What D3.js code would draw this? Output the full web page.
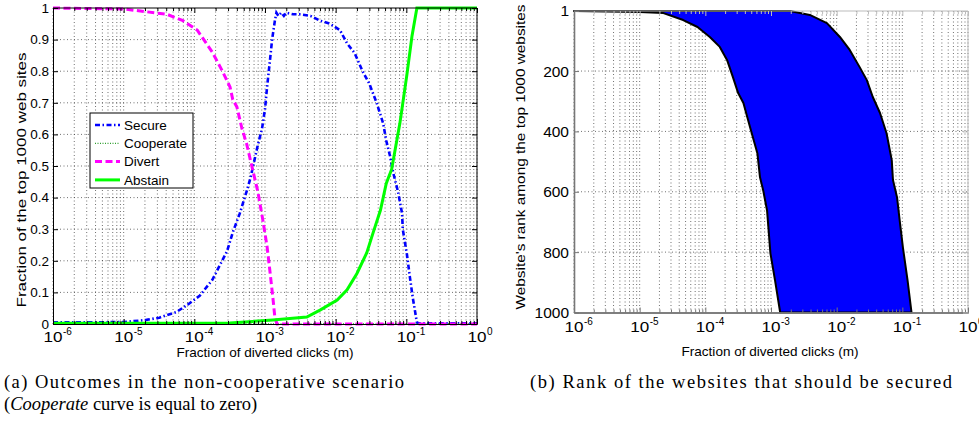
<!DOCTYPE html>
<html>
<head>
<meta charset="utf-8">
<script src="https://cdn.jsdelivr.net/npm/d3@7"></script>
<style>
    body { margin: 0; background: #fff; }
    svg { display: block; }
    text { font-family: "Liberation Sans", Arial, sans-serif; fill: #000; }
    .caption { font-family: "Liberation Serif", "Times New Roman", serif; }
</style>
</head>
<body>
<svg id="fig" width="979" height="425"></svg>
<script>
// ---- (a) outcomes, fraction of the top 1000 sites vs. fraction of diverted clicks
const secureM = [1e-6, 1e-5, 2.1e-5, 3.2e-5, 5.6e-5, 7.9e-5, 1.2e-4, 1.8e-4, 2.9e-4, 3.5e-4, 4.4e-4, 5.5e-4,
    6.2e-4, 7.8e-4, 9.1e-4, 1.0e-3, 1.07e-3, 1.17e-3, 1.26e-3, 1.38e-3, 1.45e-3, 1.55e-3, 1.7e-3, 1.85e-3,
    2.0e-3, 2.5e-3, 3.1e-3, 4.4e-3, 6.0e-3, 8.3e-3, 0.0115, 0.0145, 0.0186, 0.024, 0.030, 0.038, 0.047,
    0.052, 0.059, 0.065, 0.076, 0.087, 0.089, 0.102, 0.112, 0.123, 0.132, 0.141, 0.155, 1];
const secureFrac = [0.005, 0.006, 0.013, 0.02, 0.038, 0.06, 0.09, 0.14, 0.23, 0.29, 0.35, 0.42,
    0.46, 0.56, 0.62, 0.68, 0.75, 0.83, 0.90, 0.96, 0.985, 0.975, 0.985, 0.975,
    0.985, 0.98, 0.98, 0.975, 0.96, 0.95, 0.93, 0.888, 0.857, 0.80, 0.76, 0.70, 0.635,
    0.58, 0.53, 0.48, 0.42, 0.35, 0.30, 0.22, 0.15, 0.085, 0.044, 0.005, 0.002, 0.002];

const cooperateM = [1e-6, 1];
const cooperateFrac = [0, 0];

const divertM = [1e-6, 1e-5, 4.1e-5, 6.9e-5, 1.1e-4, 1.8e-4, 2.5e-4, 3.2e-4, 3.5e-4, 4.0e-4, 4.7e-4,
    5.5e-4, 6.5e-4, 7.9e-4, 9.3e-4, 1.07e-3, 1.17e-3, 1.29e-3, 1.38e-3, 1.48e-3, 1];
const divertFrac = [1.0, 0.997, 0.98, 0.96, 0.93, 0.86, 0.80, 0.75, 0.71, 0.687, 0.62,
    0.57, 0.50, 0.42, 0.33, 0.245, 0.17, 0.085, 0.02, 0, 0];

const abstainM = [1e-6, 3.2e-4, 1.29e-3, 3.9e-3, 6.0e-3, 0.0105, 0.0145, 0.020, 0.0275, 0.034, 0.043,
    0.052, 0.062, 0.081, 0.102, 0.12, 0.141, 1];
const abstainFrac = [0.002, 0.003, 0.013, 0.022, 0.044, 0.076, 0.108, 0.16, 0.225, 0.29, 0.36,
    0.445, 0.49, 0.635, 0.79, 0.91, 1.0, 1.0];

const seriesNames = ["Secure", "Cooperate", "Divert", "Abstain"];
const fracTicks = [0, 0.1, 0.2, 0.3, 0.4, 0.5, 0.6, 0.7, 0.8, 0.9, 1];
const fracTickLabels = ["0", "0.1", "0.2", "0.3", "0.4", "0.5", "0.6", "0.7", "0.8", "0.9", "1"];

// ---- (b) rank band of the websites that should be secured
const lowerEdgeM = [1e-6, 1e-5, 2.3e-5, 4.6e-5, 7.6e-5, 1.17e-4, 1.66e-4, 2.14e-4, 2.63e-4, 3.16e-4,
    3.8e-4, 4.8e-4, 6.2e-4, 6.8e-4, 7.6e-4, 8.7e-4, 9.8e-4, 1.15e-3, 1.38e-3];
const lowerEdgeRank = [1, 4, 8, 31, 54, 87, 120, 163, 220, 273, 306, 386, 472, 552, 595, 661, 804, 893, 1000];
const upperEdgeM = [1.95e-3, 3.9e-3, 7.1e-3, 0.0112, 0.0158, 0.0224, 0.0288, 0.0355, 0.0457, 0.0575,
    0.069, 0.072, 0.083, 0.091, 0.102, 0.120, 0.138];
const upperEdgeRank = [1, 14, 41, 87, 130, 187, 230, 286, 339, 406, 495, 561, 618, 694, 784, 893, 1000];
const rankTicks = [1, 200, 400, 600, 800, 1000];

const chart = (function () {
    "use strict";

    const svg = d3.select("#fig");

    /**
     * Dotted MATLAB-like grid over every log decade and sub-decade line.
     */
    function drawGrid(g, x, y, xVals, yVals) {
        const [y0, y1] = y.range();
        const [x0, x1] = x.range();
        g.append("g").selectAll("line").data(xVals).join("line")
            .attr("x1", d => x(d)).attr("x2", d => x(d))
            .attr("y1", y0).attr("y2", y1)
            .attr("stroke", "#333").attr("stroke-width", 0.7)
            .attr("stroke-dasharray", "1,2.5");
        g.append("g").selectAll("line").data(yVals).join("line")
            .attr("x1", x0).attr("x2", x1)
            .attr("y1", d => y(d)).attr("y2", d => y(d))
            .attr("stroke", "#333").attr("stroke-width", 0.7)
            .attr("stroke-dasharray", "1,2.5");
    }

    /**
     * Inward ticks on all four sides, labels drawn on bottom (10^k) and left.
     */
    function drawAxes(g, x, y, yVals, yLabels, opts) {
        const [y0, y1] = y.range();
        const [x0, x1] = x.range();
        const yBottom = Math.max(y0, y1), yTop = Math.min(y0, y1);
        const all = x.ticks();
        const major = all.filter(d => Math.abs(Math.log10(d) - Math.round(Math.log10(d))) < 1e-9);
        const minor = all.filter(d => !major.includes(d));

        // frame on top / right
        g.append("path")
            .attr("d", `M${x0},${yTop}H${x1}V${yBottom}`)
            .attr("fill", "none").attr("stroke", opts.frame).attr("stroke-width", 1);

        const style = sel => sel.call(s => s.selectAll("path,line").attr("stroke", opts.axis))
            .call(s => s.select(".domain").attr("stroke-width", opts.width));

        g.append("g").attr("transform", `translate(0,${yBottom})`)
            .call(d3.axisBottom(x).tickValues(major).tickSize(-5).tickSizeOuter(0).tickFormat(""))
            .call(style);
        g.append("g").attr("transform", `translate(0,${yBottom})`)
            .call(d3.axisBottom(x).tickValues(minor).tickSize(-3).tickSizeOuter(0).tickFormat(""))
            .call(style);
        g.append("g").attr("transform", `translate(0,${yTop})`)
            .call(d3.axisTop(x).tickValues(major).tickSize(-5).tickSizeOuter(0).tickFormat(""))
            .call(s => s.select(".domain").remove())
            .call(s => s.selectAll("line").attr("stroke", opts.frame));
        g.append("g").attr("transform", `translate(0,${yTop})`)
            .call(d3.axisTop(x).tickValues(minor).tickSize(-3).tickSizeOuter(0).tickFormat(""))
            .call(s => s.select(".domain").remove())
            .call(s => s.selectAll("line").attr("stroke", opts.frame));
        g.append("g").attr("transform", `translate(${x1},0)`)
            .call(d3.axisRight(y).tickValues(yVals).tickSize(-5).tickSizeOuter(0).tickFormat(""))
            .call(s => s.select(".domain").remove())
            .call(s => s.selectAll("line").attr("stroke", opts.frame));

        // left axis with labels
        g.append("g").attr("transform", `translate(${x0},0)`)
            .call(d3.axisLeft(y).tickValues(yVals).tickSize(-5).tickSizeOuter(0).tickPadding(opts.yPad)
                .tickFormat((d, i) => yLabels[i]))
            .call(style)
            .call(s => s.selectAll("text").attr("font-size", opts.yFont).attr("fill", "#000"));

        // bottom labels: "10" centred on the tick, exponent raised to the right
        const lab = g.append("g").selectAll("g").data(major).join("g")
            .attr("transform", d => `translate(${x(d)},${yBottom})`);
        lab.append("text").attr("text-anchor", "middle").attr("y", opts.xBase)
            .attr("font-size", 14).attr("textLength", 19).attr("lengthAdjust", "spacingAndGlyphs")
            .text("10");
        lab.append("text").attr("x", 10).attr("y", opts.xBase - 7)
            .attr("font-size", 10).text(d => Math.round(Math.log10(d)));
    }

    /**
     * Left panel: four outcome curves and the legend.
     */
    function drawOutcomes() {
        const x = d3.scaleLog().domain([1e-6, 1]).range([53, 477]);
        const y = d3.scaleLinear().domain([0, 1]).range([324, 8]);
        const g = svg.append("g");

        drawGrid(g, x, y, x.ticks(), fracTicks.slice(1, -1));

        const series = [
            { name: seriesNames[0], m: secureM, v: secureFrac, color: "#0000ff", width: 2.6, dash: "5,2.5,1.5,2.5" },
            { name: seriesNames[1], m: cooperateM, v: cooperateFrac, color: "#2e9e2e", width: 1.3, dash: "1,1.5" },
            { name: seriesNames[2], m: divertM, v: divertFrac, color: "#ff00ff", width: 3, dash: "7,3.5" },
            { name: seriesNames[3], m: abstainM, v: abstainFrac, color: "#00ff00", width: 3, dash: null }
        ];
        const line = d3.line().x(d => x(d[0])).y(d => y(d[1]));

        g.append("g").selectAll("path").data(series).join("path")
            .attr("d", s => line(d3.zip(s.m, s.v)))
            .attr("fill", "none")
            .attr("stroke", s => s.color)
            .attr("stroke-width", s => s.width)
            .attr("stroke-dasharray", s => s.dash);

        drawAxes(g, x, y, fracTicks, fracTickLabels,
            { axis: "#000", frame: "#000", width: 1, yPad: 4, yFont: 13.5, xBase: 18 });

        // legend
        const lg = g.append("g").attr("transform", "translate(90,113)");
        lg.append("rect").attr("width", 103).attr("height", 75)
            .attr("fill", "#fff").attr("stroke", "#000").attr("stroke-width", 1);
        const item = lg.selectAll("g").data(series).join("g")
            .attr("transform", (d, i) => `translate(0,${12 + i * 18.3})`);
        item.append("line").attr("x1", 5).attr("x2", 30)
            .attr("stroke", s => s.color)
            .attr("stroke-width", s => s.width)
            .attr("stroke-dasharray", s => s.dash);
        item.append("text").attr("x", 34).attr("dy", "0.36em")
            .attr("font-size", 13.5).text(s => s.name);

        g.append("text").attr("transform", "translate(26,180) rotate(-90)")
            .attr("text-anchor", "middle").attr("font-size", 13)
            .attr("textLength", 255).attr("lengthAdjust", "spacingAndGlyphs")
            .text("Fraction of the top 1000 web sites");
        g.append("text").attr("x", 265).attr("y", 357).attr("text-anchor", "middle")
            .attr("font-size", 13.5).attr("textLength", 177).attr("lengthAdjust", "spacingAndGlyphs")
            .text("Fraction of diverted clicks (m)");
    }

    /**
     * Right panel: filled band between the lower and upper rank edges.
     */
    function drawRanks() {
        const x = d3.scaleLog().domain([1e-6, 1]).range([574, 968]);
        const y = d3.scaleLinear().domain([1, 1000]).range([11, 312.5]);
        const g = svg.append("g");

        drawGrid(g, x, y, x.ticks(), rankTicks.slice(1, -1));

        const band = d3.zip(lowerEdgeM, lowerEdgeRank)
            .concat(d3.zip(upperEdgeM, upperEdgeRank).reverse());
        g.append("path")
            .attr("d", d3.line().x(d => x(d[0])).y(d => y(d[1]))(band) + "Z")
            .attr("fill", "#0000ff").attr("stroke", "#000").attr("stroke-width", 2)
            .attr("stroke-linejoin", "round");

        drawAxes(g, x, y, rankTicks, rankTicks.map(String),
            { axis: "#777", frame: "#bbb", width: 1.6, yPad: 5, yFont: 15.5, xBase: 19 });

        g.append("text").attr("transform", "translate(525,157) rotate(-90)")
            .attr("text-anchor", "middle").attr("font-size", 13.5)
            .attr("textLength", 305).attr("lengthAdjust", "spacingAndGlyphs")
            .text("Website's rank among the top 1000 websites");
        g.append("text").attr("x", 770).attr("y", 356).attr("text-anchor", "middle")
            .attr("font-size", 13.5).attr("textLength", 177).attr("lengthAdjust", "spacingAndGlyphs")
            .text("Fraction of diverted clicks (m)");
    }

    function drawCaptions() {
        svg.append("text").attr("class", "caption").attr("x", 4).attr("y", 388)
            .attr("font-size", 18.5).attr("textLength", 400).attr("lengthAdjust", "spacing")
            .text("(a) Outcomes in the non-cooperative scenario");
        const c2 = svg.append("text").attr("class", "caption").attr("x", 4).attr("y", 410)
            .attr("font-size", 18.5);
        c2.append("tspan").text("(");
        c2.append("tspan").attr("font-style", "italic").text("Cooperate");
        c2.append("tspan").text(" curve is equal to zero)");
        svg.append("text").attr("class", "caption").attr("x", 530).attr("y", 388)
            .attr("font-size", 18.5).attr("textLength", 422).attr("lengthAdjust", "spacing")
            .text("(b) Rank of the websites that should be secured");
    }

    return {
        init: function () {
            drawOutcomes();
            drawRanks();
            drawCaptions();
        }
    };
})();

chart.init();
</script>
</body>
</html>
